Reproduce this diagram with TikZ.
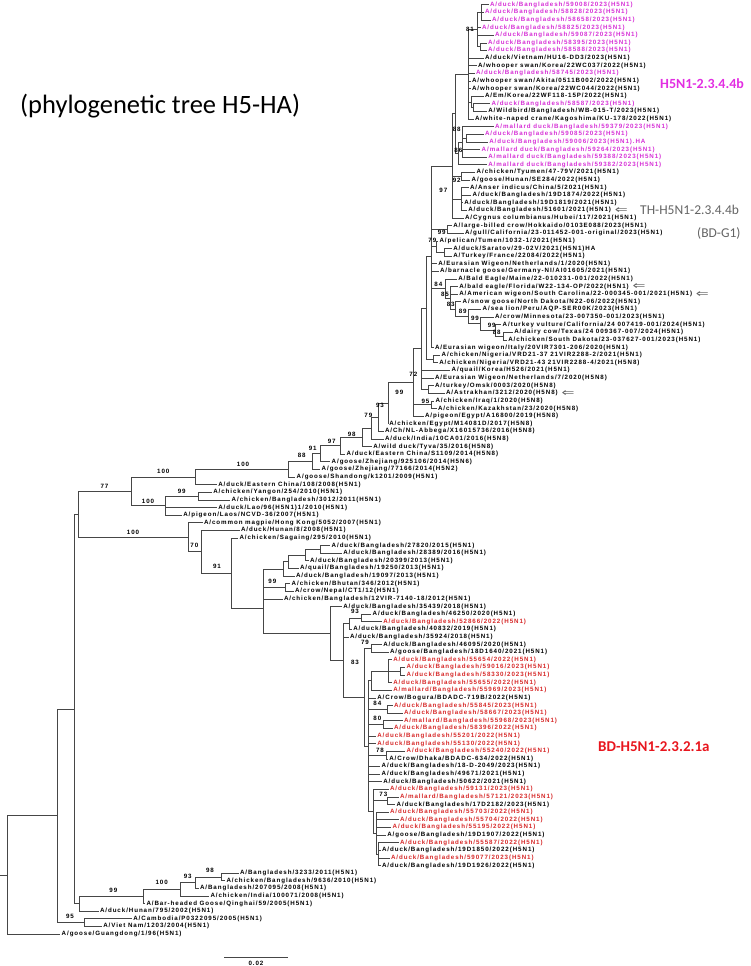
\documentclass[tikz,border=0pt]{standalone}
\usepackage{fontspec}
\usetikzlibrary{calc}
\newfontfamily\labf[LetterSpace=15]{Liberation Sans}
\newfontfamily\cali{Carlito}
\newfontfamily\dvs{DejaVu Sans}
\definecolor{mag}{RGB}{214,48,214}
\definecolor{rdl}{RGB}{214,40,40}
\definecolor{brc}{RGB}{70,70,70}
\definecolor{magT}{RGB}{226,46,226}
\definecolor{grT}{RGB}{100,100,100}
\definecolor{rdT}{RGB}{232,22,30}
\tikzset{
 lab/.style={anchor=west,inner xsep=1.3pt,inner ysep=0pt,font=\labf\bfseries\fontsize{6.2}{6.2}\selectfont},
 bsl/.style={inner sep=0pt,font=\labf\bfseries\fontsize{6.2}{6.2}\selectfont},
 br/.style={draw=brc,line width=0.55pt},
 arw/.style={anchor=west,inner sep=0pt,font=\dvs\fontsize{11}{11}\selectfont,text=grT,xscale=1.4},
}
\newcommand\lf[5]{\coordinate (#1) at (#2,{ry(#3)}); \node[lab,text=#4] (l#1) at (#1) {#5};}
\newcommand\nd[5]{\coordinate (m#1) at ($(#3)!.5!(#4)$); \coordinate (#1) at (#2,0|-m#1); \foreach \ch in {#5} {\draw[br] (#1) |- (\ch);}}
\newcommand\bsv[4]{\node[bsl] (#1) at (#2,#3) {#4};}
\begin{document}
\begin{tikzpicture}[x=1pt,y=-1pt,declare function={ry(\i)=4.7+(\i-1)*7.617;}]
\useasboundingbox (0,0) rectangle (750,966);
% leaves
\lf{L1}{488.5}{1}{mag}{A/duck/Bangladesh/59008/2023(H5N1)}
\lf{L2}{483.5}{2}{mag}{A/duck/Bangladesh/58828/2023(H5N1)}
\lf{L3}{490.5}{3}{mag}{A/duck/Bangladesh/58658/2023(H5N1)}
\lf{L4}{480.5}{4}{mag}{A/duck/Bangladesh/58825/2023(H5N1)}
\lf{L5}{493.5}{5}{mag}{A/duck/Bangladesh/59087/2023(H5N1)}
\lf{L6}{486.5}{6}{mag}{A/duck/Bangladesh/58395/2023(H5N1)}
\lf{L7}{486.5}{7}{mag}{A/duck/Bangladesh/58588/2023(H5N1)}
\lf{L8}{483.5}{8}{black}{A/duck/Vietnam/HU16-DD3/2023(H5N1)}
\lf{L9}{476.5}{9}{black}{A/whooper swan/Korea/22WC037/2022(H5N1)}
\lf{L10}{474.5}{10}{mag}{A/duck/Bangladesh/58745/2023(H5N1)}
\lf{L11}{470.5}{11}{black}{A/whooper swan/Akita/0511B002/2022(H5N1)}
\lf{L12}{470.5}{12}{black}{A/whooper swan/Korea/22WC044/2022(H5N1)}
\lf{L13}{483.5}{13}{black}{A/Em/Korea/22WF118-15P/2022(H5N1)}
\lf{L14}{490.2}{14}{mag}{A/duck/Bangladesh/58587/2023(H5N1)}
\lf{L15}{486.8}{15}{black}{A/Wildbird/Bangladesh/WB-015-T/2023(H5N1)}
\lf{L16}{473.5}{16}{black}{A/white-naped crane/Kagoshima/KU-178/2022(H5N1)}
\lf{L17}{493.5}{17}{mag}{A/mallard duck/Bangladesh/59379/2023(H5N1)}
\lf{L18}{483.5}{18}{mag}{A/duck/Bangladesh/59085/2023(H5N1)}
\lf{L19}{487.8}{19}{mag}{A/duck/Bangladesh/59006/2023(H5N1).HA}
\lf{L20}{480.2}{20}{mag}{A/mallard duck/Bangladesh/59264/2023(H5N1)}
\lf{L21}{486.8}{21}{mag}{A/mallard duck/Bangladesh/59388/2023(H5N1)}
\lf{L22}{486.8}{22}{mag}{A/mallard duck/Bangladesh/59382/2023(H5N1)}
\lf{L23}{475.2}{23}{black}{A/chicken/Tyumen/47-79V/2021(H5N1)}
\lf{L24}{470.2}{24}{black}{A/goose/Hunan/SE284/2022(H5N1)}
\lf{L25}{468.5}{25}{black}{A/Anser indicus/China/5/2021(H5N1)}
\lf{L26}{471.2}{26}{black}{A/duck/Bangladesh/19D1874/2022(H5N1)}
\lf{L27}{462.8}{27}{black}{A/duck/Bangladesh/19D1819/2021(H5N1)}
\lf{L28}{466.8}{28}{black}{A/duck/Bangladesh/51601/2021(H5N1)}
\lf{L29}{463.5}{29}{black}{A/Cygnus columbianus/Hubei/117/2021(H5N1)}
\lf{L30}{451.8}{30}{black}{A/large-billed crow/Hokkaido/0103E088/2023(H5N1)}
\lf{L31}{463.5}{31}{black}{A/gull/California/23-011452-001-original/2023(H5N1)}
\lf{L32}{438}{32}{black}{A/pelican/Tumen/1032-1/2021(H5N1)}
\lf{L33}{451.8}{33}{black}{A/duck/Saratov/29-02V/2021(H5N1)HA}
\lf{L34}{451.8}{34}{black}{A/Turkey/France/22084/2022(H5N1)}
\lf{L35}{436.8}{35}{black}{A/Eurasian Wigeon/Netherlands/1/2020(H5N1)}
\lf{L36}{438.5}{36}{black}{A/barnacle goose/Germany-NI/AI01605/2021(H5N1)}
\lf{L37}{456.8}{37}{black}{A/Bald Eagle/Maine/22-010231-001/2022(H5N1)}
\lf{L38}{457.8}{38}{black}{A/bald eagle/Florida/W22-134-OP/2022(H5N1)}
\lf{L39}{457.8}{39}{black}{A/American wigeon/South Carolina/22-000345-001/2021(H5N1)}
\lf{L40}{461.2}{40}{black}{A/snow goose/North Dakota/N22-06/2022(H5N1)}
\lf{L41}{481.2}{41}{black}{A/sea lion/Peru/AQP-SER00K/2023(H5N1)}
\lf{L42}{493.5}{42}{black}{A/crow/Minnesota/23-007350-001/2023(H5N1)}
\lf{L43}{501.2}{43}{black}{A/turkey vulture/California/24 007419-001/2024(H5N1)}
\lf{L44}{512.8}{44}{black}{A/dairy cow/Texas/24 009367-007/2024(H5N1)}
\lf{L45}{506.8}{45}{black}{A/chicken/South Dakota/23-037627-001/2023(H5N1)}
\lf{L46}{433.5}{46}{black}{A/Eurasian wigeon/Italy/20VIR7301-206/2020(H5N1)}
\lf{L47}{440.2}{47}{black}{A/chicken/Nigeria/VRD21-37 21VIR2288-2/2021(H5N1)}
\lf{L48}{437.8}{48}{black}{A/chicken/Nigeria/VRD21-43 21VIR2288-4/2021(H5N8)}
\lf{L49}{450.2}{49}{black}{A/quail/Korea/H526/2021(H5N1)}
\lf{L50}{433.5}{50}{black}{A/Eurasian Wigeon/Netherlands/7/2020(H5N8)}
\lf{L51}{433.5}{51}{black}{A/turkey/Omsk/0003/2020(H5N8)}
\lf{L52}{444.5}{52}{black}{A/Astrakhan/3212/2020(H5N8)}
\lf{L53}{434}{53}{black}{A/chicken/Iraq/1/2020(H5N8)}
\lf{L54}{436.5}{54}{black}{A/chicken/Kazakhstan/23/2020(H5N8)}
\lf{L55}{423.5}{55}{black}{A/pigeon/Egypt/A16800/2019(H5N8)}
\lf{L56}{387.8}{56}{black}{A/chicken/Egypt/M14081D/2017(H5N8)}
\lf{L57}{383.5}{57}{black}{A/Ch/NL-Abbega/X16015736/2016(H5N8)}
\lf{L58}{383.5}{58}{black}{A/duck/India/10CA01/2016(H5N8)}
\lf{L59}{371.8}{59}{black}{A/wild duck/Tyva/35/2016(H5N8)}
\lf{L60}{345.2}{60}{black}{A/duck/Eastern China/S1109/2014(H5N8)}
\lf{L61}{330.2}{61}{black}{A/goose/Zhejiang/925106/2014(H5N6)}
\lf{L62}{320.2}{62}{black}{A/goose/Zhejiang/77166/2014(H5N2)}
\lf{L63}{295.2}{63}{black}{A/goose/Shandong/k1201/2009(H5N1)}
\lf{L64}{216.8}{64}{black}{A/duck/Eastern China/108/2008(H5N1)}
\lf{L65}{211.8}{65}{black}{A/chicken/Yangon/254/2010(H5N1)}
\lf{L66}{230.2}{66}{black}{A/chicken/Bangladesh/3012/2011(H5N1)}
\lf{L67}{216.8}{67}{black}{A/duck/Lao/96(H5N1)1/2010(H5N1)}
\lf{L68}{181.8}{68}{black}{A/pigeon/Laos/NCVD-36/2007(H5N1)}
\lf{L69}{202.5}{69}{black}{A/common magpie/Hong Kong/5052/2007(H5N1)}
\lf{L70}{239.5}{70}{black}{A/duck/Hunan/8/2008(H5N1)}
\lf{L71}{238}{71}{black}{A/chicken/Sagaing/295/2010(H5N1)}
\lf{L72}{330.2}{72}{black}{A/duck/Bangladesh/27820/2015(H5N1)}
\lf{L73}{341.8}{73}{black}{A/duck/Bangladesh/28389/2016(H5N1)}
\lf{L74}{308.5}{74}{black}{A/duck/Bangladesh/20399/2013(H5N1)}
\lf{L75}{298.5}{75}{black}{A/quail/Bangladesh/19250/2013(H5N1)}
\lf{L76}{294.5}{76}{black}{A/duck/Bangladesh/19097/2013(H5N1)}
\lf{L77}{290.2}{77}{black}{A/chicken/Bhutan/346/2012(H5N1)}
\lf{L78}{293.5}{78}{black}{A/crow/Nepal/CT1/12(H5N1)}
\lf{L79}{282.5}{79}{black}{A/chicken/Bangladesh/12VIR-7140-18/2012(H5N1)}
\lf{L80}{341.8}{80}{black}{A/duck/Bangladesh/35439/2018(H5N1)}
\lf{L81}{371.2}{81}{black}{A/duck/Bangladesh/46250/2020(H5N1)}
\lf{L82}{381.8}{82}{rdl}{A/duck/Bangladesh/52866/2022(H5N1)}
\lf{L83}{351.8}{83}{black}{A/duck/Bangladesh/40832/2019(H5N1)}
\lf{L84}{348.5}{84}{black}{A/duck/Bangladesh/35924/2018(H5N1)}
\lf{L85}{381.8}{85}{black}{A/duck/Bangladesh/46095/2020(H5N1)}
\lf{L86}{388.5}{86}{black}{A/goose/Bangladesh/18D1640/2021(H5N1)}
\lf{L87}{391.8}{87}{rdl}{A/duck/Bangladesh/55654/2022(H5N1)}
\lf{L88}{405.2}{88}{rdl}{A/duck/Bangladesh/59016/2023(H5N1)}
\lf{L89}{405.2}{89}{rdl}{A/duck/Bangladesh/58330/2023(H5N1)}
\lf{L90}{391.8}{90}{rdl}{A/duck/Bangladesh/55655/2022(H5N1)}
\lf{L91}{391.8}{91}{rdl}{A/mallard/Bangladesh/55969/2023(H5N1)}
\lf{L92}{375.8}{92}{black}{A/Crow/Bogura/BDADC-719B/2022(H5N1)}
\lf{L93}{392.5}{93}{rdl}{A/duck/Bangladesh/55845/2023(H5N1)}
\lf{L94}{402.5}{94}{rdl}{A/duck/Bangladesh/58667/2023(H5N1)}
\lf{L95}{402.5}{95}{rdl}{A/mallard/Bangladesh/55968/2023(H5N1)}
\lf{L96}{392.5}{96}{rdl}{A/duck/Bangladesh/58396/2022(H5N1)}
\lf{L97}{375.8}{97}{rdl}{A/duck/Bangladesh/55201/2022(H5N1)}
\lf{L98}{375.8}{98}{rdl}{A/duck/Bangladesh/55130/2022(H5N1)}
\lf{L99}{405.2}{99}{rdl}{A/duck/Bangladesh/55240/2022(H5N1)}
\lf{L100}{387.8}{100}{black}{A/Crow/Dhaka/BDADC-634/2022(H5N1)}
\lf{L101}{380.2}{101}{black}{A/duck/Bangladesh/18-D-2049/2023(H5N1)}
\lf{L102}{380.2}{102}{black}{A/duck/Bangladesh/49671/2021(H5N1)}
\lf{L103}{381.8}{103}{black}{A/duck/Bangladesh/50622/2021(H5N1)}
\lf{L104}{388.5}{104}{rdl}{A/duck/Bangladesh/59131/2023(H5N1)}
\lf{L105}{398.5}{105}{rdl}{A/mallard/Bangladesh/57121/2023(H5N1)}
\lf{L106}{395.2}{106}{black}{A/duck/Bangladesh/17D2182/2023(H5N1)}
\lf{L107}{388.5}{107}{rdl}{A/duck/Bangladesh/55703/2022(H5N1)}
\lf{L108}{398.5}{108}{rdl}{A/duck/Bangladesh/55704/2022(H5N1)}
\lf{L109}{391.2}{109}{rdl}{A/duck/Bangladesh/55195/2022(H5N1)}
\lf{L110}{385.8}{110}{black}{A/goose/Bangladesh/19D1907/2022(H5N1)}
\lf{L111}{398.5}{111}{rdl}{A/duck/Bangladesh/55587/2022(H5N1)}
\lf{L112}{380.5}{112}{black}{A/duck/Bangladesh/19D1850/2022(H5N1)}
\lf{L113}{389.5}{113}{rdl}{A/duck/Bangladesh/59077/2023(H5N1)}
\lf{L114}{380.5}{114}{black}{A/duck/Bangladesh/19D1926/2022(H5N1)}
\lf{L115}{238.5}{115}{black}{A/Bangladesh/3233/2011(H5N1)}
\lf{L116}{225}{116}{black}{A/chicken/Bangladesh/9636/2010(H5N1)}
\lf{L117}{198.5}{117}{black}{A/Bangladesh/207095/2008(H5N1)}
\lf{L118}{209}{118}{black}{A/chicken/India/100071/2008(H5N1)}
\lf{L119}{145}{119}{black}{A/Bar-headed Goose/Qinghai/59/2005(H5N1)}
\lf{L120}{98.5}{120}{black}{A/duck/Hunan/795/2002(H5N1)}
\lf{L121}{131.8}{121}{black}{A/Cambodia/P0322095/2005(H5N1)}
\lf{L122}{101.8}{122}{black}{A/Viet Nam/1203/2004(H5N1)}
\lf{L123}{60.2}{123}{black}{A/goose/Guangdong/1/96(H5N1)}
% internal nodes: 2.3.4.4b
\nd{n1}{481}{L1}{L3}{L1,L2,L3}
\nd{n2}{480}{L6}{L7}{L6,L7}
\nd{n81}{477.7}{n1}{n2}{n1,L4,L5,n2}
\nd{nEmb}{473.3}{L14}{L15}{L14,L15}
\nd{nEm}{471.7}{L13}{nEmb}{L13,nEmb}
\nd{nA}{468.3}{n81}{L16}{n81,L8,L9,L10,L11,L12,nEm,L16}
\nd{n85}{466}{L18}{L19}{L18,L19}
\nd{n88}{462}{L17}{L21}{L17,n85,L20,L21}
\nd{n86}{458.3}{n88}{L22}{n88,L22}
\nd{nBf}{455}{nA}{n86}{nA,n86}
\nd{n92}{461.7}{L23}{L24}{L23,L24}
\nd{nAns}{461.7}{L25}{L28}{L25,L26,L27,L28}
\nd{n97}{452}{nBf}{L29}{nBf,n92,nAns,L29}
\nd{n99c}{447}{L30}{L31}{L30,L31}
\nd{nSar}{444.3}{L33}{L34}{L33,L34}
\nd{n79a}{436.7}{L32}{nSar}{L32,nSar}
\nd{n88b}{503}{L44}{L45}{L44,L45}
\nd{n99e}{495}{L43}{n88b}{L43,n88b}
\nd{n99d}{480}{L42}{n99e}{L42,n99e}
\nd{n89}{468}{L41}{n99d}{L41,n99d}
\nd{n83b}{455}{L40}{n89}{L40,n89}
\nd{n85b}{450}{L38}{n83b}{L38,L39,n83b}
\nd{n84}{445}{L37}{n85b}{L37,n85b}
\nd{n2344}{431.7}{n97}{L46}{n97,n99c,n79a,L35,L36,n84,L46}
\nd{nNig}{433}{L47}{L48}{L47,L48}
\nd{nU}{426.7}{n2344}{nNig}{n2344,nNig}
\nd{nOmsk}{428.3}{L51}{L52}{L51,L52}
\nd{n72}{421.7}{nU}{nOmsk}{nU,L49,L50,nOmsk}
\nd{n95}{431}{L53}{L54}{L53,L54}
\nd{n99}{413}{n72}{L55}{n72,n95,L55}
\nd{n93}{388}{n99}{L56}{n99,L56}
\nd{n79}{378}{n93}{L57}{n93,L57}
\nd{nX}{371.7}{n79}{L58}{n79,L58}
\nd{n98}{362}{nX}{L59}{nX,L59}
\nd{n97b}{340}{n98}{L60}{n98,L60}
\nd{n91}{320}{n97b}{L61}{n97b,L61}
\nd{n88c}{312}{n91}{L62}{n91,L62}
\nd{n100a}{288}{n88c}{L63}{n88c,L63}
\nd{n100b}{195}{n100a}{L64}{n100a,L64}
\nd{n99y}{198}{L65}{L66}{L65,L66}
\nd{n100c}{165}{n99y}{L68}{n99y,L67,L68}
\nd{n77}{131}{n100b}{n100c}{n100b,n100c}
% 2.3.2.1
\nd{n320}{320}{L72}{L73}{L72,L73}
\nd{n305}{305}{n320}{L74}{n320,L74}
\nd{n288}{288.3}{n305}{L75}{n305,L75}
\nd{n283}{283.3}{n288}{L76}{n288,L76}
\nd{n99bh}{285}{L77}{L78}{L77,L78}
\nd{nY}{263.3}{n283}{L79}{n283,n99bh,L79}
\nd{n93b}{361.7}{L81}{L82}{L81,L82}
\nd{n349}{349.3}{n93b}{L83}{n93b,L83}
\nd{n79c}{371.7}{L85}{L86}{L85,L86}
\nd{n400}{400}{L88}{L89}{L88,L89}
\nd{nA1}{388.3}{L87}{L90}{L87,n400,L90}
\nd{nA2}{371.7}{nA1}{L91}{nA1,L91}
\nd{n84bd}{387.3}{L93}{L94}{L93,L94}
\nd{n80bd}{383}{L95}{L96}{L95,L96}
\nd{n78bd}{386}{L99}{L100}{L99,L100}
\nd{n73bd}{387.3}{L105}{L106}{L105,L106}
\nd{nL2}{378}{L111}{L114}{L111,L112,L113,L114}
\nd{nL1}{376}{L107}{nL2}{L107,L108,L109,L110,nL2}
\nd{nLow}{373.3}{L104}{nL1}{L104,n73bd,nL1}
\nd{nR}{368.3}{nA2}{nLow}{nA2,L92,n84bd,n80bd,L97,L98,n78bd,L101,L102,L103,nLow}
\nd{n83}{364}{n79c}{nR}{n79c,nR}
\nd{n343}{343.3}{n349}{n83}{n349,L84,n83}
\nd{nBD}{330}{L80}{n343}{L80,n343}
\nd{nX2}{263.3}{nY}{nBD}{nY,nBD}
\nd{n91m}{231.7}{L71}{nX2}{L71,nX2}
\nd{n70}{201.7}{L70}{n91m}{L70,n91m}
\nd{n188}{188.3}{L69}{n70}{L69,n70}
\nd{nTop}{78}{n77}{n188}{n77,n188}
% basal
\nd{n221}{221.7}{L115}{L116}{L115,L116}
\nd{n98c}{195}{n221}{L117}{n221,L117}
\nd{n93c}{180}{n98c}{L118}{n98c,L118}
\nd{n100d}{143.3}{n93c}{L119}{n93c,L119}
\nd{nC}{79}{n100d}{L120}{n100d,L120}
\nd{nB}{74.7}{nTop}{nC}{nTop,nC}
\nd{n95d}{84}{L121}{L122}{L121,L122}
\nd{nA0}{57.7}{nB}{n95d}{nB,n95d}
\nd{root}{7}{nA0}{L123}{nA0,L123}
\coordinate (rs) at (0,0|-root);
\draw[br] (rs) -- (root);
% bootstrap values
\bsv{b1}{470}{29.3}{81}
\bsv{b2}{456.7}{129.3}{88}
\bsv{b3}{458.3}{150.7}{86}
\bsv{b4}{456.7}{180.7}{92}
\bsv{b5}{443.3}{190}{97}
\bsv{b6}{441.7}{232.7}{99}
\bsv{b7}{432.3}{240.7}{79}
\bsv{b8}{438.3}{284.3}{84}
\bsv{b9}{445}{294.3}{85}
\bsv{b10}{450.7}{304.3}{83}
\bsv{b11}{462.7}{311.7}{89}
\bsv{b12}{475}{318.3}{99}
\bsv{b13}{491.7}{325.7}{99}
\bsv{b14}{496.7}{332.3}{88}
\bsv{b15}{413.3}{374.3}{72}
\bsv{b16}{399.3}{392.7}{99}
\bsv{b17}{425.5}{401}{95}
\bsv{b18}{380}{405.7}{93}
\bsv{b19}{368.3}{415.7}{79}
\bsv{b20}{351.7}{434.3}{98}
\bsv{b21}{331.7}{441}{97}
\bsv{b22}{312.7}{448.3}{91}
\bsv{b23}{301.7}{455}{88}
\bsv{b24}{243}{464.3}{100}
\bsv{b25}{163.3}{471.7}{100}
\bsv{b26}{181.7}{491.7}{99}
\bsv{b42}{148}{501}{100}
\bsv{b43}{104.5}{486.3}{77}
\bsv{b44}{133}{532}{100}
\bsv{b27}{194.3}{545.7}{70}
\bsv{b28}{217}{566.3}{91}
\bsv{b29}{272.3}{581.7}{99}
\bsv{b30}{355}{611.7}{93}
\bsv{b31}{365}{642.7}{79}
\bsv{b32}{355}{662.7}{83}
\bsv{b33}{377.3}{703.3}{84}
\bsv{b34}{377.3}{718.3}{80}
\bsv{b35}{380}{750}{78}
\bsv{b36}{383.3}{794.3}{73}
\bsv{b37}{210}{870}{98}
\bsv{b38}{187.7}{876}{93}
\bsv{b39}{161.7}{882.7}{100}
\bsv{b40}{113.3}{890}{99}
\bsv{b41}{70}{916.7}{95}
% arrows
\node[arw] (a1) at ([xshift=2pt]lL28.east) {⇐};
\node[arw] (a2) at ([xshift=2pt]lL38.east) {⇐};
\node[arw] (a3) at ([xshift=2pt]lL39.east) {⇐};
\node[arw] (a4) at ([xshift=2pt]lL52.east) {⇐};
% titles
\node[anchor=west,inner sep=0pt,font=\cali\fontsize{26.5}{30}\selectfont] (title) at (20,106) {(phylogenetic tree H5-HA)};
\node[anchor=west,inner sep=0pt,font=\cali\bfseries\fontsize{14}{16}\selectfont,text=magT] (c1) at (660,84) {H5N1-2.3.4.4b};
\node[anchor=west,inner sep=0pt,font=\cali\fontsize{13.5}{15}\selectfont,text=grT] (c2) at (640,210) {TH-H5N1-2.3.4.4b};
\node[anchor=west,inner sep=0pt,font=\cali\fontsize{13.5}{15}\selectfont,text=grT] (c3) at (697,233.5) {(BD-G1)};
\node[anchor=west,inner sep=0pt,font=\cali\bfseries\fontsize{15}{17}\selectfont,text=rdT] (c4) at (598,747) {BD-H5N1-2.3.2.1a};
% scale bar
\coordinate (s1) at (224,957.3);
\coordinate (s2) at (288.3,957.3);
\draw[br] (s1) -- (s2);
\node[bsl] (sl) at (256,963.5) {0.02};
\end{tikzpicture}
\end{document}
